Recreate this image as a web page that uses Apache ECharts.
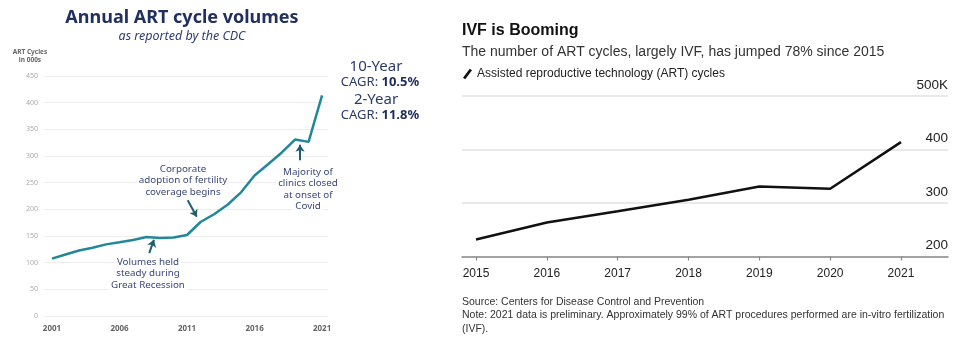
<!DOCTYPE html>
<html><head><meta charset="utf-8">
<script src="https://cdn.jsdelivr.net/npm/echarts@6/dist/echarts.min.js"></script>
<style>html,body{margin:0;padding:0;background:#fff}#c{width:971px;height:340px}</style>
</head><body><div id="c"></div>
<script>
// Left chart (CDC annual ART cycles, in 000s)
const leftYears = [2001,2002,2003,2004,2005,2006,2007,2008,2009,2010,2011,2012,2013,2014,2015,2016,2017,2018,2019,2020,2021];
const leftValues = [107.6,115.4,122.9,128.0,134.3,138.2,142.4,148.1,146.2,147.3,151.9,176.2,190.8,208.6,231.9,263.6,284.4,306.2,330.8,326.5,413.8];
const leftTickYears = [2001,2006,2011,2016,2021];
// Right chart (ART cycles, thousands)
const rightYears = [2015,2016,2017,2018,2019,2020,2021];
const rightValues = [231.9,263.6,284.4,306.2,330.8,326.5,413.8];
const rightSeriesName = 'Assisted reproductive technology (ART) cycles';
// annotation arrows (data coords: [year, value])
const arrows = [
  [[2011.05, 217], [2011.72, 186]],
  [[2008.2, 118], [2008.55, 143]],
  [[2019.37, 292], [2019.37, 321]]
];

const chart = echarts.init(document.getElementById('c'));
const navy = '#22305e';
const teal = '#23879a';
const lf = '"Noto Sans", sans-serif';
const rf = '"Liberation Sans", Arial, sans-serif';

function t(text, x, y, font, fill, align, bg) {
  const s = {text, x, y, font, fill, align: align||'center', verticalAlign:'middle'};
  if (bg) { s.backgroundColor = '#fff'; s.padding = [0,2]; }
  return {type:'text', silent:true, z:10, style:s};
}
const af = '9.8px '+lf, ac = '#3a4878';

chart.setOption({
  animation:false,
  grid:[
    {left:45, right:643, top:76, bottom:24},
    {left:462, right:23, top:96, bottom:83.5}
  ],
  legend:{
    data:[rightSeriesName], left:458, top:63, itemWidth:9, itemHeight:11, itemGap:6,
    icon:'path://M0,10 L7.5,0 L10,1.6 L2.5,11.6 Z',
    textStyle:{fontFamily:rf, fontSize:12, color:'#222'}
  },
  xAxis:[
    {type:'value', gridIndex:0, min:2000.48, max:2021.44,
     axisLine:{show:false}, axisTick:{show:false}, splitLine:{show:false},
     axisLabel:{customValues:leftTickYears, formatter:v=>String(v), fontFamily:lf, fontSize:8, fontWeight:'bold', color:'#666', margin:9}},
    {type:'value', gridIndex:1, min:2014.802, max:2021.664,
     axisLine:{show:true, lineStyle:{color:'#8a8a8a', width:1.5}},
     axisTick:{show:true, customValues:rightYears, length:4, lineStyle:{color:'#8a8a8a', width:1.2}},
     splitLine:{show:false},
     axisLabel:{customValues:rightYears, formatter:v=>String(v), fontFamily:rf, fontSize:12, color:'#222', margin:11}}
  ],
  yAxis:[
    {type:'value', gridIndex:0, min:0, max:450, interval:50,
     axisLine:{show:false}, axisTick:{show:false},
     splitLine:{lineStyle:{color:'#ededed', width:1}},
     axisLabel:{fontFamily:lf, fontSize:7, color:'#aaa', margin:7}},
    {type:'value', gridIndex:1, position:'right', min:200, max:500, interval:100,
     axisLine:{show:false}, axisTick:{show:false},
     splitLine:{lineStyle:{color:'#e2e2e2', width:1.5}},
     axisLabel:{inside:true, margin:0, verticalAlign:'bottom', padding:[0,0,4,0],
       formatter:v=>v===500?'500K':String(v), fontFamily:rf, fontSize:13.5, color:'#222'}}
  ],
  series:[
    {type:'line', name:'left', xAxisIndex:0, yAxisIndex:0, symbol:'none',
     data:leftYears.map((y,i)=>[y,leftValues[i]]),
     lineStyle:{color:teal, width:2.5},
     markLine:{silent:true, symbol:['none','arrow'], symbolSize:[7,7],
       lineStyle:{color:'#1d5f6c', width:2, type:'solid'}, label:{show:false},
       data:arrows.map(a=>[{coord:a[0]},{coord:a[1]}])}},
    {type:'line', name:rightSeriesName, xAxisIndex:1, yAxisIndex:1, symbol:'none',
     data:rightYears.map((y,i)=>[y,rightValues[i]]),
     lineStyle:{color:'#111', width:2.5}, itemStyle:{color:'#111'}}
  ],
  graphic:[
    t('Annual ART cycle volumes', 182, 18, 'bold 18px '+lf, navy),
    t('as reported by the CDC', 182, 36, 'italic 12.5px '+lf, '#2d3c6c'),
    t('ART Cycles', 30, 52, 'bold 6.5px '+lf, '#666'),
    t('in 000s', 30, 60, 'bold 6.5px '+lf, '#666'),
    t('10-Year', 376, 67, '15px '+lf, '#2c3c68'),
    {type:'text', silent:true, style:{text:'CAGR: {b|10.5%}', x:380, y:82, font:'13px '+lf, fill:'#2c3c68', align:'center', verticalAlign:'middle', rich:{b:{fontWeight:'bold', fontSize:13, fontFamily:lf, fill:'#1f2d5a'}}}},
    t('2-Year', 376, 100, '15px '+lf, '#2c3c68'),
    {type:'text', silent:true, style:{text:'CAGR: {b|11.8%}', x:380, y:115, font:'13px '+lf, fill:'#2c3c68', align:'center', verticalAlign:'middle', rich:{b:{fontWeight:'bold', fontSize:13, fontFamily:lf, fill:'#1f2d5a'}}}},
    t('Corporate', 183, 169, af, ac, 'center', true),
    t('adoption of fertility', 183, 180.5, af, ac, 'center', true),
    t('coverage begins', 183, 192, af, ac, 'center', true),
    t('Volumes held', 148, 262, af, ac, 'center', true),
    t('steady during', 148, 273.5, af, ac, 'center', true),
    t('Great Recession', 148, 285, af, ac, 'center', true),
    t('Majority of', 308, 172, af, ac, 'center', true),
    t('clinics closed', 308, 183.5, af, ac, 'center', true),
    t('at onset of', 308, 195, af, ac, 'center', true),
    t('Covid', 308, 206.5, af, ac, 'center', true),
    t('IVF is Booming', 462, 31, 'bold 16px '+rf, '#111', 'left'),
    t('The number of ART cycles, largely IVF, has jumped 78% since 2015', 462, 52, '14px '+rf, '#333', 'left'),
    t('Source: Centers for Disease Control and Prevention', 462, 302, '10.5px '+rf, '#333', 'left'),
    t('Note: 2021 data is preliminary. Approximately 99% of ART procedures performed are in-vitro fertilization', 462, 315.5, '10.5px '+rf, '#333', 'left'),
    t('(IVF).', 462, 329.5, '10.5px '+rf, '#333', 'left')
  ]
});
</script></body></html>
